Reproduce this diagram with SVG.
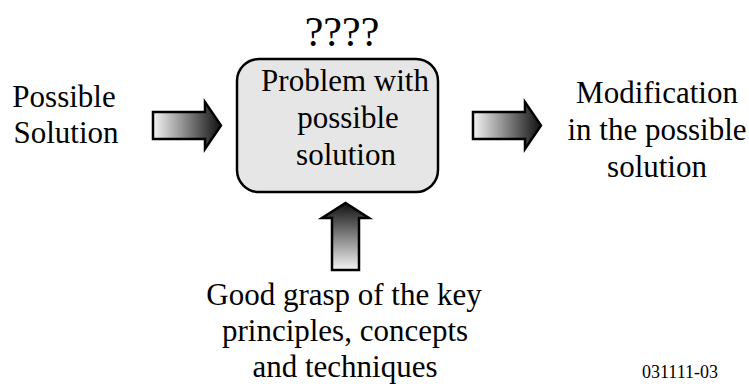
<svg xmlns="http://www.w3.org/2000/svg" width="749" height="386" viewBox="0 0 749 386">
<defs>
<linearGradient id="gh" x1="0" y1="0" x2="1" y2="0">
<stop offset="0" stop-color="#f4f4f4"/><stop offset="1" stop-color="#111"/>
</linearGradient>
<linearGradient id="gv" x1="0" y1="1" x2="0" y2="0">
<stop offset="0" stop-color="#f4f4f4"/><stop offset="1" stop-color="#111"/>
</linearGradient>
<style>
.arrow{stroke:#000;stroke-width:2.5;stroke-linejoin:miter}
</style>
</defs>
<rect width="749" height="386" fill="#fff"/>
<g id="box">
<rect x="237" y="59" width="201" height="133" rx="22" fill="#e6e6e6" stroke="#000" stroke-width="2.5"/>
<text transform="translate(345,91) scale(1.107)" font-family="Liberation Serif" font-size="28" text-anchor="middle">Problem with</text>
<text transform="translate(348,128) scale(1.107)" font-family="Liberation Serif" font-size="28" text-anchor="middle">possible</text>
<text transform="translate(346,165) scale(1.107)" font-family="Liberation Serif" font-size="28" text-anchor="middle">solution</text>
</g>
<g id="question">
<text x="342" y="46" font-family="Liberation Serif" font-size="42" text-anchor="middle">????</text>
</g>
<g id="input">
<text transform="translate(64,107) scale(1.107)" font-family="Liberation Serif" font-size="28" text-anchor="middle">Possible</text>
<text transform="translate(66,143) scale(1.107)" font-family="Liberation Serif" font-size="28" text-anchor="middle">Solution</text>
</g>
<g id="output">
<text transform="translate(657,103) scale(1.107)" font-family="Liberation Serif" font-size="28" text-anchor="middle">Modification</text>
<text transform="translate(657,140) scale(1.107)" font-family="Liberation Serif" font-size="28" text-anchor="middle">in the possible</text>
<text transform="translate(657,177) scale(1.107)" font-family="Liberation Serif" font-size="28" text-anchor="middle">solution</text>
</g>
<g id="knowledge">
<text transform="translate(344,305) scale(1.107)" font-family="Liberation Serif" font-size="28" text-anchor="middle">Good grasp of the key</text>
<text transform="translate(345,341) scale(1.107)" font-family="Liberation Serif" font-size="28" text-anchor="middle">principles, concepts</text>
<text transform="translate(345,377) scale(1.107)" font-family="Liberation Serif" font-size="28" text-anchor="middle">and techniques</text>
</g>
<g id="label">
<text x="680" y="378" font-family="Liberation Serif" font-size="18" text-anchor="middle">031111-03</text>
</g>
<g id="connectors">
<path class="arrow" fill="url(#gh)" d="M153,112 H205 V102 L221,125.5 L205,149 V139 H153 Z"/>
<path class="arrow" fill="url(#gh)" d="M473,112 H525 V102 L541,125.5 L525,149 V139 H473 Z"/>
<path class="arrow" fill="url(#gv)" d="M332,270 V218 H322 L345.5,203 L369,218 H359 V270 Z"/>
</g>
</svg>
